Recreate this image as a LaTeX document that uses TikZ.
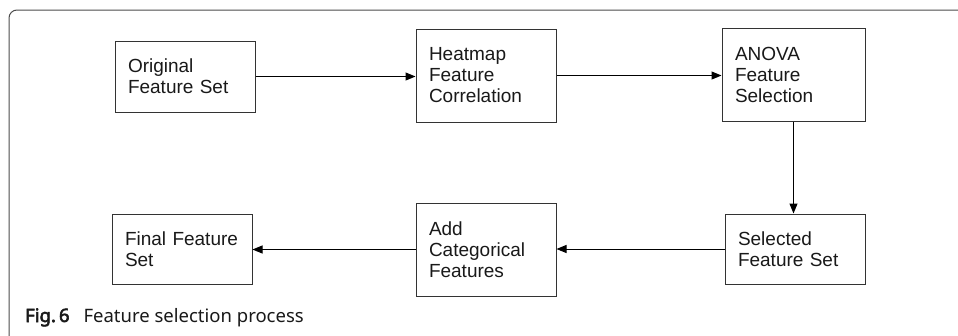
\documentclass[tikz,border=0pt]{standalone}
\usepackage{fontspec}
\setmainfont{Liberation Sans}
\newfontfamily\capfont{Noto Sans}[AutoFakeBold=3]
\usetikzlibrary{arrows.meta}
\begin{document}
\begin{tikzpicture}[x=1pt,y=-1pt,
  stepbox/.style={draw=black!80, line width=1pt, rectangle, inner sep=0pt,
    minimum width=#1, text width=#1-26pt, align=left,
    font=\fontsize{19pt}{21pt}\selectfont, text=black!90},
  conn/.style={draw=black, line width=1pt, -{Triangle[length=10pt,width=8pt]}}]
\useasboundingbox (0,0) rectangle (958,335);
\clip (0,0) rectangle (958,335);
% frame
\draw[draw=black!70, line width=1pt, rounded corners=8pt] (9,345) -- (9,10) -- (970,10);
% boxes
\node[stepbox=140pt, minimum height=71pt] (b1) at (185,76.5) {Original\\Feature Set};
\node[stepbox=140pt, minimum height=93pt] (b2) at (486,75.5) {Heatmap\\Feature\\Correlation};
\node[stepbox=143pt, minimum height=93pt] (b3) at (793.5,74.5) {ANOVA\\Feature\\Selection};
\node[stepbox=140pt, minimum height=70pt] (b4) at (795,249) {Selected\\Feature Set};
\node[stepbox=140pt, minimum height=93pt] (b5) at (486,249.5) {Add\\Categorical\\Features};
\node[stepbox=140pt, minimum height=70pt] (b6) at (182,249) {Final Feature\\Set};
% connectors
\draw[conn] (b1.east) -- (b1.east -| b2.west);
\draw[conn] (b2.east) -- (b2.east -| b3.west);
\draw[conn] (b3.south) -- (b3.south |- b4.north);
\draw[conn] (b4.west) -- (b4.west -| b5.east);
\draw[conn] (b5.west) -- (b5.west -| b6.east);
% caption
\node[anchor=base west, inner sep=0pt, font=\capfont\fontsize{18.5pt}{21pt}\selectfont, text=black!90] (cap) at (25,322) {\textbf{Fig.\,6}\hspace{14pt}Feature selection process};
\end{tikzpicture}
\end{document}
